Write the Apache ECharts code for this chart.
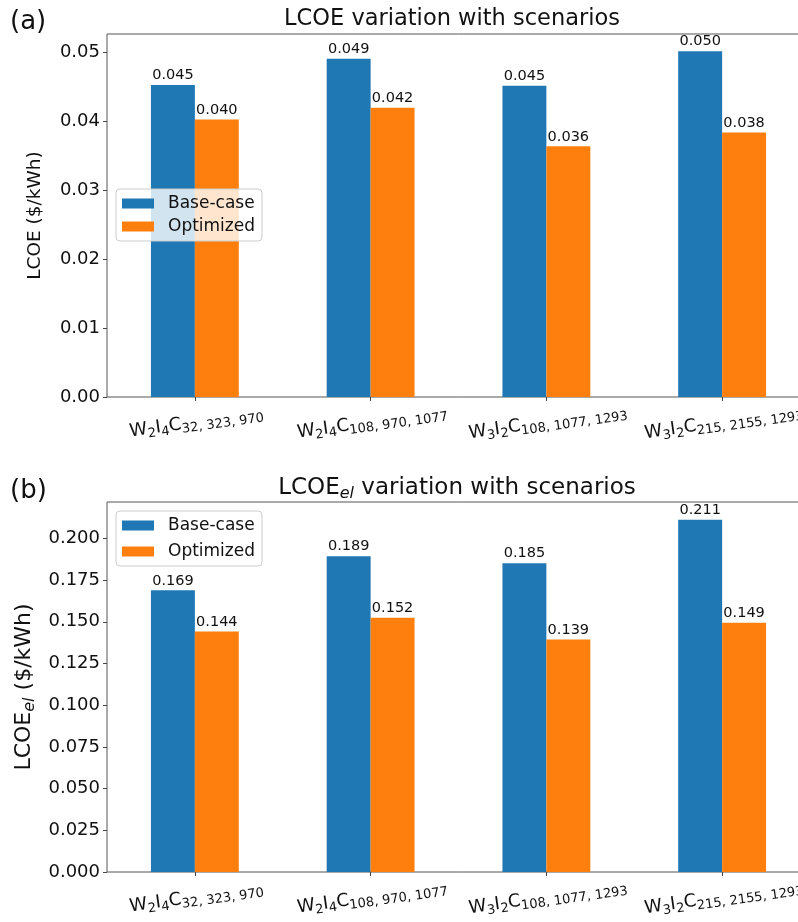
<!DOCTYPE html>
<html>
<head>
<meta charset="utf-8">
<script src="https://cdn.jsdelivr.net/npm/echarts@6/dist/echarts.min.js"></script>
<style>
  html, body { margin: 0; background: #fff; overflow: hidden; }
  #main { width: 814px; height: 922px; }
</style>
</head>
<body>
<div id="main"></div>
<script>
var categories = ['W2I4C32, 323, 970', 'W2I4C108, 970, 1077', 'W3I2C108, 1077, 1293', 'W3I2C215, 2155, 1293'];
var seriesNames = ['Base-case', 'Optimized'];
var lcoeBase = [0.0453, 0.0491, 0.0452, 0.0502];
var lcoeOpt = [0.0403, 0.0420, 0.0364, 0.0384];
var lcoeElBase = [0.1689, 0.1893, 0.1851, 0.2112];
var lcoeElOpt = [0.1442, 0.1524, 0.1394, 0.1494];
var colors = ['#1f77b4', '#ff7f0e'];

var FONT = 'DejaVu Sans';

// W2I4C32,... -> rich text with subscripts
function catLabel(v){
    var m = /^W(\d)I(\d)C(.+)$/.exec(v);
    if(!m) return v;
    return '{m|W}{s|' + m[1] + '}{m|I}{s|' + m[2] + '}{m|C}{s|' + m[3] + '}';
}
var catRich = {
    m: { fontFamily: FONT, fontSize: 18, color: '#111' },
    s: { fontFamily: FONT, fontSize: 13, color: '#111', padding: [10, 0, 0, 0] }
};

function xAxisOf(idx){
    return {
        type: 'category',
        gridIndex: idx,
        data: categories,
        axisLine: { show: false },
        axisTick: { show: true, alignWithLabel: true, length: 4, lineStyle: { color: '#444' } },
        axisLabel: {
            rotate: 8,
            align: 'center',
            verticalAlign: 'top',
            margin: 14,
            formatter: catLabel,
            rich: catRich
        },
        splitLine: { show: false }
    };
}

function yAxisOf(idx, max, interval, digits, name, nameSize, nameRich){
    return {
        type: 'value',
        gridIndex: idx,
        min: 0,
        max: max,
        interval: interval,
        name: name,
        nameLocation: 'middle',
        nameGap: 62,
        nameTextStyle: { fontFamily: FONT, fontSize: nameSize, color: '#111', rich: nameRich },
        axisLine: { show: false },
        axisTick: { show: true, length: 4, lineStyle: { color: '#444' } },
        axisLabel: {
            showMaxLabel: false,
            fontFamily: FONT, fontSize: 18, color: '#111', margin: 7,
            formatter: function(v){ return v.toFixed(digits); }
        },
        splitLine: { show: false }
    };
}

function barSeries(name, data, idx, color){
    return {
        name: name,
        type: 'bar',
        xAxisIndex: idx,
        yAxisIndex: idx,
        data: data,
        barWidth: '25%',
        barGap: '0%',
        itemStyle: { color: color },
        label: {
            show: true,
            position: 'top',
            distance: 2,
            fontFamily: FONT,
            fontSize: 14.5,
            color: '#111',
            formatter: function(p){ return p.value.toFixed(3); }
        }
    };
}

function legendOf(top, gap){
    return {
        orient: 'vertical',
        left: 116,
        top: top,
        data: seriesNames,
        icon: 'rect',
        itemWidth: 32,
        itemHeight: 10,
        itemGap: gap,
        padding: [6, 7, 6, 6],
        backgroundColor: 'rgba(255,255,255,0.8)',
        borderColor: '#ccc',
        borderWidth: 1,
        borderRadius: 4,
        selectedMode: false,
        textStyle: { fontFamily: FONT, fontSize: 17, color: '#111', padding: [0, 0, 0, 9] }
    };
}

var chart = echarts.init(document.getElementById('main'));
var option = {
    animation: false,
    color: colors,
    grid: [
        { left: 107, top: 34, width: 703, height: 363, show: true, borderColor: '#555', borderWidth: 1, backgroundColor: 'transparent' },
        { left: 107, top: 502, width: 703, height: 370, show: true, borderColor: '#555', borderWidth: 1, backgroundColor: 'transparent' }
    ],
    legend: [legendOf(189, 6), legendOf(511, 9)],
    xAxis: [xAxisOf(0), xAxisOf(1)],
    yAxis: [
        yAxisOf(0, 0.0527, 0.01, 2, 'LCOE ($/kWh)', 18.5),
        yAxisOf(1, 0.2218, 0.025, 3, '{n|LCOE}{e|el}{n| ($/kWh)}', 22, {
            n: { fontFamily: FONT, fontSize: 22, color: '#111' },
            e: { fontFamily: FONT, fontSize: 16, fontStyle: 'italic', color: '#111', padding: [11, 0, 0, 0] }
        })
    ],
    series: [
        barSeries(seriesNames[0], lcoeBase, 0, colors[0]),
        barSeries(seriesNames[1], lcoeOpt, 0, colors[1]),
        barSeries(seriesNames[0], lcoeElBase, 1, colors[0]),
        barSeries(seriesNames[1], lcoeElOpt, 1, colors[1])
    ],
    graphic: [
        { type: 'text', left: 10, top: 9, style: { text: '(a)', font: '26px "DejaVu Sans"', fill: '#111' } },
        { type: 'text', left: 10, top: 478, style: { text: '(b)', font: '26px "DejaVu Sans"', fill: '#111' } },
        { type: 'text', x: 452, y: 19, style: { text: 'LCOE variation with scenarios', font: '22.5px "DejaVu Sans"', fill: '#111', align: 'center', verticalAlign: 'middle' } },
        { type: 'text', x: 457, y: 488, style: {
            text: '{n|LCOE}{e|el}{n| variation with scenarios}', align: 'center', verticalAlign: 'middle',
            rich: {
                n: { fontFamily: FONT, fontSize: 23, fill: '#111' },
                e: { fontFamily: FONT, fontSize: 16, fontStyle: 'italic', fill: '#111', padding: [11, 0, 0, 0] }
            }
        } }
    ]
};
chart.setOption(option);
</script>
</body>
</html>
